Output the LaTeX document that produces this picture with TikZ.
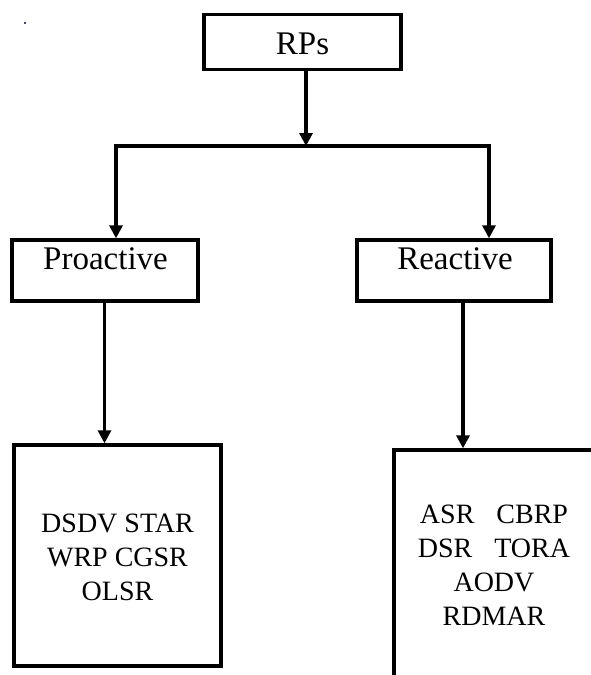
\documentclass[tikz,border=0pt]{standalone}
\usepackage{fontspec}
\setmainfont{Liberation Serif}
\usetikzlibrary{arrows.meta}

\tikzset{
  box/.style={draw=black, line width=3.4pt, rectangle, inner sep=0pt, fill=white},
  title/.style={font=\fontsize{33}{36}\selectfont, inner sep=0pt, anchor=base},
  listtext/.style={font=\fontsize{28}{34}\selectfont, inner sep=0pt, align=center},
  link/.style={line width=3.2pt, -{Triangle[width=13pt,length=13pt]}, line join=miter},
}

\begin{document}
\begin{tikzpicture}[x=1pt, y=-1pt]
  \useasboundingbox (0,0) rectangle (591,675);
  \clip (0,0) rectangle (591,675);
  \fill[white] (0,0) rectangle (591,675);

  % stray dot in the top left corner
  \fill[black!70!blue] (25,23) circle (1.2pt);

  % boxes
  \node[box, minimum width=197pt, minimum height=55pt] (rps) at (302.5,42) {};
  \node[box, minimum width=186pt, minimum height=61pt] (pro) at (105,270.5) {};
  \node[box, minimum width=194pt, minimum height=61pt] (rea) at (454,270.5) {};
  \node[box, minimum width=207pt, minimum height=221pt] (prolist) at (117.5,555.5) {};
  \node[box, minimum width=240pt, minimum height=260pt] (realist) at (514,580) {};

  % box titles
  \node[title] (rpsT) at (302.5,54) {RPs};
  \node[title] (proT) at (105.5,269) {Proactive};
  \node[title] (reaT) at (455,269) {Reactive};

  % protocol lists
  \node[listtext] (proL) at (117.5,557) {DSDV STAR\\WRP CGSR\\OLSR};
  \node[listtext] (reaL) at (494,565) {ASR\hspace{22pt}CBRP\\DSR\hspace{22pt}TORA\\AODV\\RDMAR};

  % connectors
  \coordinate (split) at (306,146);
  \coordinate (bl) at (116,146);
  \coordinate (br) at (489,146);
  \draw[link] (rps.south -| split) -- (split);
  \draw[link, {Triangle[width=13pt,length=13pt]}-{Triangle[width=13pt,length=13pt]}]
    (pro.north -| bl) -- (bl) -- (br) -- (rea.north -| br);
  \draw[link] (pro.south -| 104.5,0) -- (prolist.north -| 104.5,0);
  \draw[link] (rea.south -| 463,0) -- (realist.north -| 463,0);
\end{tikzpicture}
\end{document}
